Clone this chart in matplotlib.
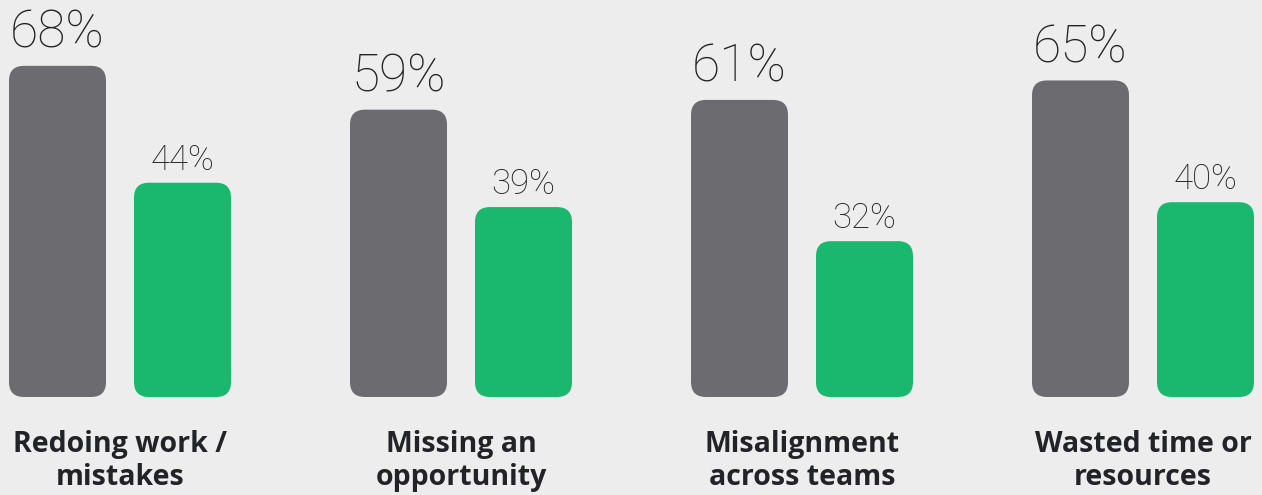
"""Grouped rounded bars: share of respondents citing each cost (gray vs green)."""

import matplotlib
matplotlib.use("Agg")
import matplotlib.pyplot as plt
from matplotlib.patches import FancyBboxPatch

categories = ["Redoing work /\nmistakes", "Missing an\nopportunity",
              "Misalignment\nacross teams", "Wasted time or\nresources"]
gray_values = [68, 59, 61, 65]
green_values = [44, 39, 32, 40]

GRAY = "#6b6b70"
GREEN = "#1ab76e"
BG = "#ededed"
TEXT = "#222326"

W, H, DPI = 1262, 495, 100
PX_X = 341.0   # pixels per category unit
PX_Y = 4.87    # pixels per percent
BAR_W = 97 / PX_X
OFFSET = 62.5 / PX_X
RADIUS = 15 / PX_X

fig = plt.figure(figsize=(W / DPI, H / DPI), dpi=DPI, facecolor=BG)
ax = fig.add_axes([0, 0, 1, 1])
ax.set_facecolor(BG)
ax.set_xlim(-120 / PX_X, (W - 120) / PX_X)
ax.set_ylim(-98 / PX_Y, (H - 98) / PX_Y)
ax.axis("off")

aspect = PX_X / PX_Y


def rounded_bar(xc, h, color):
    ax.add_patch(FancyBboxPatch((xc - BAR_W / 2, 0), BAR_W, h,
                                boxstyle=f"round,pad=0,rounding_size={RADIUS}",
                                mutation_aspect=aspect, fc=color, ec="none"))


for i, (cat, g, s) in enumerate(zip(categories, gray_values, green_values)):
    rounded_bar(i - OFFSET, g, GRAY)
    rounded_bar(i + OFFSET, s, GREEN)
    ax.text(i - OFFSET, g + 18 / PX_Y, f"{g}%", ha="center", va="baseline",
            fontsize=37, family="Roboto", fontweight="light", color=TEXT)
    ax.text(i + OFFSET, s + 13 / PX_Y, f"{s}%", ha="center", va="baseline",
            fontsize=25, family="Roboto", fontweight="light", color=TEXT)
    ax.text(i, -33 / PX_Y, cat, ha="center", va="top", fontsize=20.5,
            family="Open Sans", fontweight="bold", color=TEXT, linespacing=1.2)

fig.savefig("out.png", dpi=DPI, facecolor=BG)
